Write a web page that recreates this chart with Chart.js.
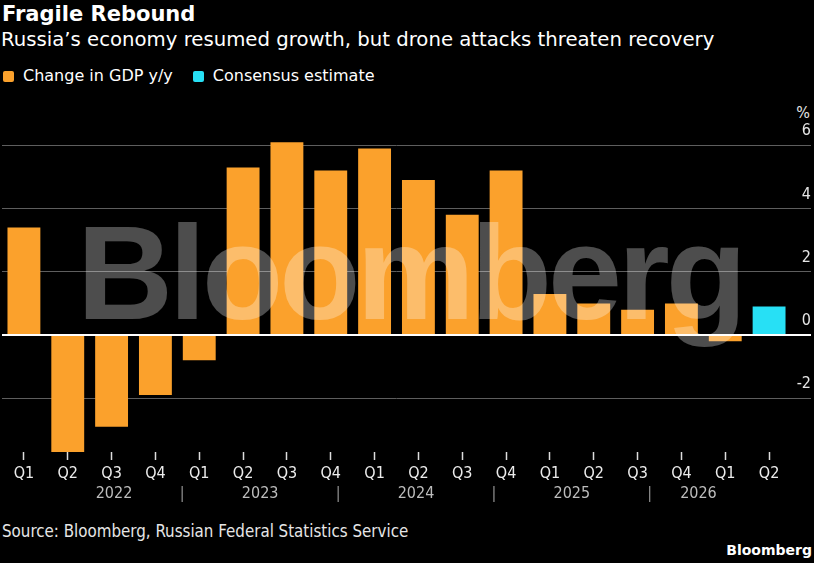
<!DOCTYPE html>
<html>
<head>
<meta charset="utf-8">
<script src="https://cdn.jsdelivr.net/npm/chart.js@4.4.1/dist/chart.umd.min.js"></script>
<style>
  html, body { margin: 0; padding: 0; background: #000; }
  body { width: 814px; height: 563px; position: relative; overflow: hidden; color: #fff; font-family: "DejaVu Sans", sans-serif; }
  .abs { position: absolute; white-space: nowrap; }
  #title { left: 2px; top: 2px; font: bold 21px "DejaVu Sans"; }
  #subtitle { left: 1px; top: 28px; font: 19.7px "DejaVu Sans"; }
  #legend { left: 3px; top: 66px; display: flex; align-items: center; font: 16px "DejaVu Sans"; line-height: 20px; }
  #legend .item { display: flex; align-items: center; margin-right: 20px; }
  #legend .box { width: 11px; height: 11px; border-radius: 2px; margin-right: 9px; }
  #unit { right: 4px; top: 103px; font: 16px "DejaVu Sans Condensed"; line-height: 20px; color: #e6e6e6; }
  #wrap { left: 0; top: 100px; width: 814px; height: 410px; }
  #mark { left: 77px; top: 197px; font: bold 133px "Liberation Sans"; letter-spacing: -4px; color: rgba(255,255,255,0.3); pointer-events: none; }
  #source { left: 2px; top: 521px; font: 16.8px "DejaVu Sans Condensed"; color: #e6e6e6; }
  #logo { right: 2px; top: 542px; font: bold 14px "DejaVu Sans"; }
</style>
</head>
<body>
<div id="title" class="abs">Fragile Rebound</div>
<div id="subtitle" class="abs">Russia’s economy resumed growth, but drone attacks threaten recovery</div>
<div id="legend" class="abs"></div>
<div id="unit" class="abs">%</div>
<div id="wrap" class="abs"><canvas id="gdpChart"></canvas></div>
<div id="mark" class="abs">Bloomberg</div>
<div id="source" class="abs">Source: Bloomberg, Russian Federal Statistics Service</div>
<div id="logo" class="abs">Bloomberg</div>
<script>
const quarters = ['Q1', 'Q2', 'Q3', 'Q4', 'Q1', 'Q2', 'Q3', 'Q4', 'Q1', 'Q2', 'Q3', 'Q4',
                  'Q1', 'Q2', 'Q3', 'Q4', 'Q1', 'Q2'];
const years = ['2022', '2023', '2024', '2025', '2026'];
const gdpChange = [3.4, -3.7, -2.9, -1.9, -0.8, 5.3, 6.1, 5.2, 5.9, 4.9, 3.8, 5.2,
                   1.3, 1.0, 0.8, 1.0, -0.2, null];
const consensus = [null, null, null, null, null, null, null, null, null, null, null, null,
                   null, null, null, null, null, 0.9];
const yTicks = [-2, 0, 2, 4, 6];

const ORANGE = '#fba12c';
const CYAN = '#27e0f5';
const AXIS_FONT = { family: 'DejaVu Sans Condensed', size: 16 };

// year labels sit midway between the Q4 separators
const bounds = [-0.5];
quarters.forEach((q, i) => { if (q === 'Q4') bounds.push(i); });
bounds.push(quarters.length - 0.5);
const yearTicks = [];
years.forEach((yr, i) => yearTicks.push({ value: (bounds[i] + bounds[i + 1]) / 2, label: yr }));
bounds.slice(1, -1).forEach(b => yearTicks.push({ value: b, label: '|' }));

const datasets = [
  { label: 'Change in GDP y/y', data: gdpChange, backgroundColor: ORANGE },
  { label: 'Consensus estimate', data: consensus, backgroundColor: CYAN }
];

// html legend from the datasets
const legend = document.getElementById('legend');
datasets.forEach(ds => {
  const item = document.createElement('div');
  item.className = 'item';
  item.innerHTML = '<span class="box" style="background:' + ds.backgroundColor + '"></span>' + ds.label;
  legend.appendChild(item);
});

const validValues = gdpChange.concat(consensus).filter(v => v !== null);

new Chart(document.getElementById('gdpChart'), {
  type: 'bar',
  data: {
    labels: quarters,
    datasets: datasets.map(ds => Object.assign({
      xAxisID: 'x',
      yAxisID: 'y',
      grouped: false,
      barPercentage: 0.75,
      categoryPercentage: 1
    }, ds))
  },
  options: {
    responsive: true,
    maintainAspectRatio: false,
    animation: false,
    layout: { padding: { left: 2, right: 3, top: 20, bottom: 6 } },
    plugins: {
      legend: { display: false },
      tooltip: { enabled: false }
    },
    scales: {
      x: {
        type: 'category',
        position: 'bottom',
        weight: 0,
        afterFit: axis => { axis.height = 31; },
        border: { display: false },
        grid: {
          drawOnChartArea: false,
          drawTicks: true,
          offset: false,
          tickLength: 8,
          tickWidth: 1.5,
          color: '#dddddd'
        },
        ticks: {
          color: '#ececec',
          font: AXIS_FONT,
          padding: 4,
          autoSkip: false,
          maxRotation: 0
        }
      },
      years: {
        type: 'linear',
        position: 'bottom',
        weight: 1,
        bounds: 'data',
        min: -0.5,
        max: quarters.length - 0.5,
        afterFit: axis => { axis.height = 21; },
        border: { display: false },
        grid: { display: false, drawTicks: false },
        afterBuildTicks: axis => { axis.ticks = yearTicks.map(t => ({ value: t.value })); },
        ticks: {
          autoSkip: false,
          maxRotation: 0,
          padding: 1,
          font: AXIS_FONT,
          color: ctx => ctx.tick && ctx.tick.label === '|' ? '#8f8f8f' : '#bcbcbc',
          callback: (value, index) => yearTicks[index].label
        }
      },
      y: {
        type: 'linear',
        position: 'right',
        bounds: 'data',
        min: Math.min(...validValues),
        max: 6.8,
        afterBuildTicks: axis => { axis.ticks = yTicks.map(v => ({ value: v })); },
        afterFit: axis => { axis.width = 20; },
        border: { display: false },
        grid: {
          color: ctx => ctx.tick && ctx.tick.value === 0 ? '#ffffff' : '#5e5e5e',
          lineWidth: ctx => ctx.tick && ctx.tick.value === 0 ? 2 : 1,
          drawTicks: true,
          tickLength: 20
        },
        ticks: {
          crossAlign: 'far',
          labelOffset: -14,
          color: '#e6e6e6',
          font: AXIS_FONT
        }
      }
    }
  }
});
</script>
</body>
</html>
